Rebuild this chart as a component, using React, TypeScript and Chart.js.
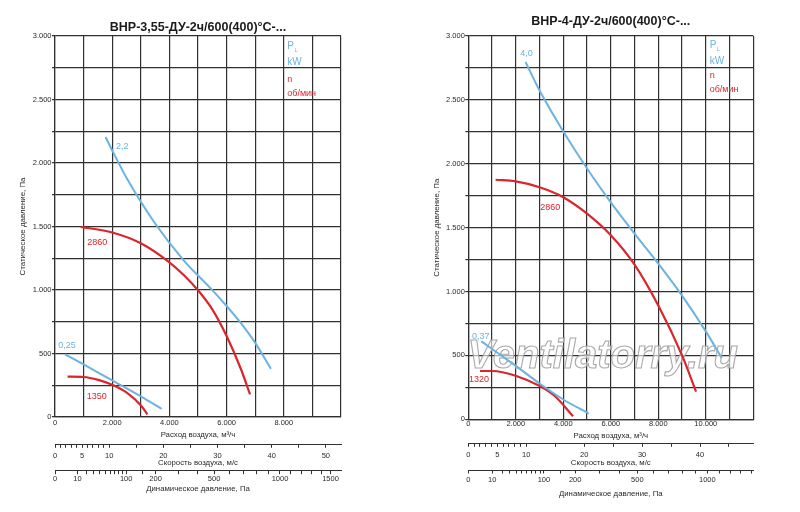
import React, { useEffect, useRef } from "react";
import { Chart, ChartConfiguration, Plugin, registerables } from "chart.js";

Chart.register(...registerables);

const FONT = "'Liberation Sans', Arial, sans-serif";
const BLUE = "#6cb3df";
const RED = "#d9252c";
const GRID = "#303030";
const TEXT = "#2a2a2a";

// ВНР-3,55: flow m3/h vs static pressure Pa
const left22: [number, number][] = [
  [1770, 2205], [2000, 2099], [2500, 1884], [3500, 1524], [4500, 1234], [5500, 999],
  [6000, 874], [6500, 739], [7000, 584], [7550, 380],
];
const left2860: [number, number][] = [
  [900, 1497], [2000, 1453], [3000, 1368], [4000, 1218], [4500, 1118], [5000, 998],
  [5500, 848], [6000, 638], [6500, 378], [6820, 178],
];
const left025: [number, number][] = [[350, 494], [1000, 414], [2000, 288], [3000, 162], [3730, 64]];
const left1350: [number, number][] = [
  [440, 318], [1010, 315], [1510, 292], [2020, 252], [2510, 192], [3020, 87], [3230, 21],
];

// ВНР-4
const right40: [number, number][] = [
  [2410, 2797], [3000, 2573], [4000, 2253], [5000, 1963], [6000, 1698], [7000, 1453],
  [8000, 1218], [9000, 968], [10000, 688], [10670, 480],
];
const right2860: [number, number][] = [
  [1150, 1875], [2000, 1862], [3000, 1816], [4000, 1738], [5000, 1609], [6000, 1440],
  [7000, 1210], [8000, 890], [9000, 500], [9590, 217],
];
const right037: [number, number][] = [[550, 610], [1000, 550], [2000, 418], [3000, 280], [4000, 155], [5070, 45]];
const right1320: [number, number][] = [
  [490, 378], [1010, 378], [2020, 339], [3010, 260], [3640, 182], [4410, 24],
];

// tick labels
const pressureLabelsY = [0, 500, 1000, 1500, 2000, 2500, 3000];
const leftFlowLabels = [0, 2000, 4000, 6000, 8000];
const rightFlowLabels = [0, 2000, 4000, 6000, 8000, 10000];
const leftSpeedTicks = [0, 1, 2, 3, 4, 5, 6, 7, 8, 9, 10, 15, 20, 25, 30, 35, 40, 45, 50];
const leftSpeedLabels = [0, 5, 10, 20, 30, 40, 50];
const rightSpeedTicks = [0, 1, 2, 3, 4, 5, 6, 7, 8, 9, 10, 15, 20, 25, 30, 35, 40, 45];
const rightSpeedLabels = [0, 5, 10, 20, 30, 40];
const leftDynTicks = [
  0, 10, 20, 30, 40, 50, 60, 70, 80, 90, 100, 150, 200, 300, 400, 500, 600, 700, 800, 900,
  1000, 1100, 1200, 1300, 1400, 1500,
];
const leftDynLabels = [0, 10, 100, 200, 500, 1000, 1500];
const rightDynTicks = [
  0, 10, 20, 30, 40, 50, 60, 70, 80, 90, 100, 150, 200, 300, 400, 500, 600, 700, 800, 900,
  1000, 1100, 1200, 1300, 1400,
];
const rightDynLabels = [0, 10, 100, 200, 500, 1000];

type Note = { text: string; x: number; y: number; color: string };

type Geometry = {
  padTop: number; titlePadBottom: number; yWidth: number; padRight: number; padBottom: number;
  yTitlePad: number; mainH: number; mainTickPad: number; mainTitlePad: number;
  speedH: number; speedTickPad: number; speedTitlePad: number;
  dynH: number; dynTickPad: number; dynTitlePad: number;
};

type PanelSpec = {
  title: string;
  flowMax: number;
  flowLabels: number[];
  speedMax: number;
  speedTicks: number[];
  speedLabels: number[];
  dynRootMax: number;
  dynTicks: number[];
  dynLabels: number[];
  curves: { points: [number, number][]; color: string; width: number }[];
  notes: Note[];
  legendX: number;
  legendY: number[];
  watermark: boolean;
  geo: Geometry;
};

const fmt = (v: number) =>
  v >= 1000 ? `${Math.floor(v / 1000)}.${String(v % 1000).padStart(3, "0")}` : `${v}`;

const steps = (max: number, step: number) => {
  const out: number[] = [];
  for (let v = 0; v <= max + 1e-6; v += step) out.push(v);
  return out;
};

const leftSpec: PanelSpec = {
  title: "ВНР-3,55-ДУ-2ч/600(400)°С-...",
  flowMax: 10000,
  flowLabels: leftFlowLabels,
  speedMax: 52.8,
  speedTicks: leftSpeedTicks,
  speedLabels: leftSpeedLabels,
  dynRootMax: 40.2,
  dynTicks: leftDynTicks,
  dynLabels: leftDynLabels,
  curves: [
    { points: left22, color: BLUE, width: 2 },
    { points: left025, color: BLUE, width: 2 },
    { points: left2860, color: RED, width: 2.2 },
    { points: left1350, color: RED, width: 2.2 },
  ],
  notes: [
    { text: "2,2", x: 2130, y: 2128, color: BLUE },
    { text: "2860", x: 1130, y: 1372, color: RED },
    { text: "0,25", x: 115, y: 561, color: BLUE },
    { text: "1350", x: 1108, y: 160, color: RED },
  ],
  legendX: 8120,
  legendY: [2916, 2793, 2659, 2549],
  watermark: false,
  geo: {
    padTop: 20.2, titlePadBottom: 0.8, yWidth: 55, padRight: 59, padBottom: 11.3,
    yTitlePad: 18, mainH: 27.3, mainTickPad: 1.2, mainTitlePad: 4.6,
    speedH: 26.4, speedTickPad: 3.2, speedTitlePad: 3.3,
    dynH: 30, dynTickPad: 0.1, dynTitlePad: 7,
  },
};

const rightSpec: PanelSpec = {
  title: "ВНР-4-ДУ-2ч/600(400)°С-...",
  flowMax: 12000,
  flowLabels: rightFlowLabels,
  speedMax: 49.2,
  speedTicks: rightSpeedTicks,
  speedLabels: rightSpeedLabels,
  dynRootMax: 37.7,
  dynTicks: rightDynTicks,
  dynLabels: rightDynLabels,
  curves: [
    { points: right40, color: BLUE, width: 2 },
    { points: right037, color: BLUE, width: 2 },
    { points: right2860, color: RED, width: 2.2 },
    { points: right1320, color: RED, width: 2.2 },
  ],
  notes: [
    { text: "4,0", x: 2190, y: 2859, color: BLUE },
    { text: "2860", x: 3030, y: 1656, color: RED },
    { text: "0,37", x: 156, y: 650, color: BLUE },
    { text: "1320", x: 29, y: 311, color: RED },
  ],
  legendX: 10164,
  legendY: [2927, 2804, 2693, 2583],
  watermark: true,
  geo: {
    padTop: 14.5, titlePadBottom: 6.5, yWidth: 68.3, padRight: 46.7, padBottom: 12,
    yTitlePad: 32, mainH: 24, mainTickPad: 0.4, mainTitlePad: 2.9,
    speedH: 26.7, speedTickPad: 3.7, speedTitlePad: 2.6,
    dynH: 30, dynTickPad: 2.3, dynTitlePad: 1,
  },
};

function makeNotesPlugin(spec: PanelSpec): Plugin<"line"> {
  return {
    id: "notes",
    beforeDatasetsDraw(chart) {
      if (!spec.watermark) return;
      const ctx = chart.ctx;
      const area = chart.chartArea;
      const ys = chart.scales.y;
      ctx.save();
      ctx.font = `italic bold 40px ${FONT}`;
      ctx.textAlign = "center";
      ctx.textBaseline = "alphabetic";
      const cx = (area.left + area.right) / 2 - 8;
      const cy = ys.getPixelForValue(400);
      ctx.fillStyle = "rgba(255,255,255,0.6)";
      ctx.fillText("Ventilatorry.ru", cx, cy);
      ctx.strokeStyle = "rgba(160,160,160,0.9)";
      ctx.lineWidth = 1.1;
      ctx.strokeText("Ventilatorry.ru", cx, cy);
      ctx.restore();
    },
    afterDatasetsDraw(chart) {
      const ctx = chart.ctx;
      const xs = chart.scales.x;
      const ys = chart.scales.y;
      ctx.save();
      ctx.textAlign = "left";
      ctx.textBaseline = "middle";
      ctx.font = `9px ${FONT}`;
      for (const n of spec.notes) {
        ctx.fillStyle = n.color;
        ctx.fillText(n.text, xs.getPixelForValue(n.x), ys.getPixelForValue(n.y));
      }
      // P_L kW / n об/мин
      const lx = xs.getPixelForValue(spec.legendX);
      const [pY, kwY, nY, rpmY] = spec.legendY.map((v) => ys.getPixelForValue(v));
      ctx.fillStyle = BLUE;
      ctx.font = `10px ${FONT}`;
      ctx.fillText("P", lx, pY);
      const pw = ctx.measureText("P").width;
      ctx.font = `5.5px ${FONT}`;
      ctx.fillText("L", lx + pw + 0.5, pY + 4);
      ctx.font = `10px ${FONT}`;
      ctx.fillText("kW", lx, kwY);
      ctx.fillStyle = RED;
      ctx.font = `9px ${FONT}`;
      ctx.fillText("n", lx, nY);
      ctx.fillText("об/мин", lx, rpmY);
      ctx.restore();
    },
  };
}

function buildConfig(spec: PanelSpec): ChartConfiguration<"line"> {
  const g = spec.geo;
  const tickFont = { family: FONT, size: 7.5 };
  const titleFont = { family: FONT, size: 7.8 };
  const secondaryGrid = { drawOnChartArea: false, drawTicks: true, tickLength: 3.5, color: GRID, lineWidth: 1 };

  return {
    type: "line",
    data: {
      datasets: spec.curves.map((c) => ({
        data: c.points.map(([x, y]) => ({ x, y })),
        borderColor: c.color,
        borderWidth: c.width,
        pointRadius: 0,
        fill: false,
        cubicInterpolationMode: "monotone" as const,
        xAxisID: "x",
        yAxisID: "y",
      })),
    },
    options: {
      responsive: false,
      animation: false,
      events: [],
      layout: { padding: { top: g.padTop, right: g.padRight, bottom: g.padBottom, left: 0 } },
      plugins: {
        legend: { display: false },
        tooltip: { enabled: false },
        title: {
          display: true,
          text: spec.title,
          fullSize: false,
          color: "#1b1b1b",
          font: { family: FONT, size: 12.5, weight: "bold" },
          padding: { top: 0, bottom: g.titlePadBottom },
        },
      },
      scales: {
        x: {
          type: "linear",
          position: "bottom",
          weight: 0,
          min: 0,
          max: spec.flowMax,
          afterBuildTicks: (s) => {
            s.ticks = steps(spec.flowMax, 1000).map((value) => ({ value }));
          },
          ticks: {
            autoSkip: false,
            maxRotation: 0,
            padding: g.mainTickPad,
            color: TEXT,
            font: tickFont,
            callback: (v) => (spec.flowLabels.includes(Number(v)) ? fmt(Number(v)) : ""),
          },
          grid: { color: GRID, lineWidth: 1.2, drawTicks: false },
          border: { display: true, color: GRID, width: 1.2 },
          title: {
            display: true,
            text: "Расход воздуха, м³/ч",
            color: TEXT,
            font: titleFont,
            padding: { top: 0, bottom: g.mainTitlePad },
          },
          afterFit: (s) => {
            s.height = g.mainH;
          },
        },
        speed: {
          type: "linear",
          position: "bottom",
          weight: 1,
          min: 0,
          max: spec.speedMax,
          afterBuildTicks: (s) => {
            s.ticks = spec.speedTicks.map((value) => ({ value }));
          },
          ticks: {
            autoSkip: false,
            maxRotation: 0,
            padding: g.speedTickPad,
            color: TEXT,
            font: tickFont,
            callback: (v) => (spec.speedLabels.includes(Number(v)) ? String(v) : ""),
          },
          grid: secondaryGrid,
          border: { display: true, color: GRID, width: 1 },
          title: {
            display: true,
            text: "Скорость воздуха, м/с",
            color: TEXT,
            font: titleFont,
            padding: { top: 0, bottom: g.speedTitlePad },
          },
          afterFit: (s) => {
            s.height = g.speedH;
          },
        },
        dyn: {
          type: "linear",
          position: "bottom",
          weight: 2,
          min: 0,
          max: spec.dynRootMax,
          // dynamic pressure grows with the square of the speed
          afterBuildTicks: (s) => {
            s.ticks = spec.dynTicks.map((p) => ({ value: Math.sqrt(p) }));
          },
          ticks: {
            autoSkip: false,
            maxRotation: 0,
            padding: g.dynTickPad,
            color: TEXT,
            font: tickFont,
            callback: (v) => {
              const p = Math.round(Number(v) * Number(v));
              return spec.dynLabels.includes(p) ? String(p) : "";
            },
          },
          grid: secondaryGrid,
          border: { display: true, color: GRID, width: 1 },
          title: {
            display: true,
            text: "Динамическое давление, Па",
            color: TEXT,
            font: titleFont,
            padding: { top: 0, bottom: g.dynTitlePad },
          },
          afterFit: (s) => {
            s.height = g.dynH;
          },
        },
        y: {
          type: "linear",
          position: "left",
          min: 0,
          max: 3000,
          afterBuildTicks: (s) => {
            s.ticks = steps(3000, 250).map((value) => ({ value }));
          },
          ticks: {
            autoSkip: false,
            padding: 0.5,
            color: TEXT,
            font: tickFont,
            callback: (v) => (pressureLabelsY.includes(Number(v)) ? fmt(Number(v)) : ""),
          },
          grid: { color: GRID, lineWidth: 1.2, tickLength: 3 },
          border: { display: true, color: GRID, width: 1.2 },
          title: {
            display: true,
            text: "Статическое давление, Па",
            color: TEXT,
            font: { family: FONT, size: 7.9 },
            padding: { top: g.yTitlePad, bottom: 0 },
          },
          afterFit: (s) => {
            s.width = g.yWidth;
          },
        },
      },
    },
    plugins: [makeNotesPlugin(spec)],
  };
}

function FanChart({ spec }: { spec: PanelSpec }) {
  const chartRef = useRef<HTMLCanvasElement | null>(null);
  const chartInstance = useRef<Chart<"line"> | null>(null);

  useEffect(() => {
    if (chartRef && chartRef.current) {
      chartInstance.current = new Chart(chartRef.current, buildConfig(spec));
      return () => {
        if (chartInstance.current) chartInstance.current.destroy();
        chartInstance.current = null;
      };
    }
  }, [spec]);

  return <canvas ref={chartRef} width={400} height={512} style={{ display: "block", width: 400, height: 512 }} />;
}

export default function App() {
  return (
    <div
      style={{
        position: "fixed",
        left: 0,
        top: 0,
        width: 800,
        height: 512,
        background: "#fff",
        display: "flex",
      }}
    >
      <FanChart spec={leftSpec} />
      <FanChart spec={rightSpec} />
    </div>
  );
}
